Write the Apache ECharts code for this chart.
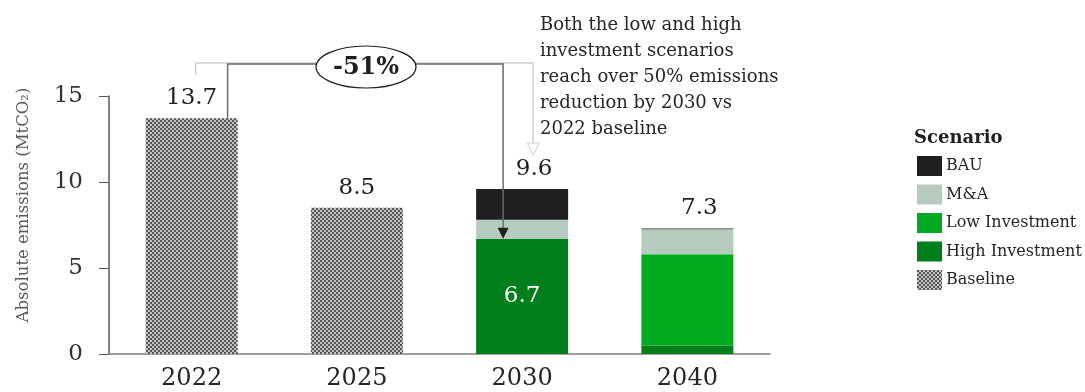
<!DOCTYPE html>
<html><head><meta charset="utf-8">
<script src="https://cdn.jsdelivr.net/npm/echarts@6/dist/echarts.min.js"></script>
<style>html,body{margin:0;padding:0;background:#fff}#c{width:1085px;height:392px}</style>
</head><body><div id="c"></div>
<script>
const categories = ['2022', '2025', '2030', '2040'];
const baseline = [13.7, 8.5, '-', '-'];
const highInv = ['-', '-', 6.7, 0.5];
const lowInv = ['-', '-', 0, 5.3];
const mna = ['-', '-', 1.1, 1.45];
const bau = ['-', '-', 1.8, 0.05];
const totals = [13.7, 8.5, 9.6, 7.3];
const yTicks = [0, 5, 10, 15];
const annotationText = 'Both the low and high\ninvestment scenarios\nreach over 50% emissions\nreduction by 2030 vs\n2022 baseline';
const reductionLabel = '-51%';
const yTitle = 'Absolute emissions (MtCO₂)';

const FONT = 'DejaVu Serif';
const colors = { bau: '#1f1f1f', mna: '#b5cbbd', low: '#00ab1f', high: '#007f1a' };

// checker pattern for Baseline
const pc = document.createElement('canvas');
pc.width = 4; pc.height = 4;
const pctx = pc.getContext('2d');
pctx.fillStyle = '#c2c2c2'; pctx.fillRect(0, 0, 4, 4);
pctx.fillStyle = '#555555';
pctx.fillRect(0, 0, 2, 2); pctx.fillRect(2, 2, 2, 2);
const pattern = { image: pc, repeat: 'repeat' };

const chart = echarts.init(document.getElementById('c'), null, { renderer: 'canvas' });
const barW = 92;
const base = { type: 'bar', stack: 'a', barWidth: barW };
const option = {
  animation: false,
  textStyle: { fontFamily: FONT },
  grid: { left: 109, right: 315, top: 96, bottom: 38, containLabel: false },
  legend: {
    orient: 'vertical', left: 912, top: 151, itemWidth: 25, itemHeight: 20, itemGap: 8.5,
    icon: 'rect',
    data: ['BAU', 'M&A', 'Low Investment', 'High Investment', 'Baseline'],
    textStyle: { fontFamily: FONT, fontSize: 16, color: '#262626', padding: [0, 0, 0, -1] },
    selectedMode: false
  },
  xAxis: {
    type: 'category', data: categories,
    axisLine: { lineStyle: { color: '#7f7f7f', width: 1.5 } },
    axisTick: { show: false },
    axisLabel: { fontFamily: FONT, fontSize: 24, color: '#262626', margin: 13 }
  },
  yAxis: {
    type: 'value', min: 0, max: 15, interval: 5,
    axisLine: { show: true, lineStyle: { color: '#595959', width: 1.5 } },
    axisTick: { show: true, inside: false, length: 10, lineStyle: { color: '#595959' } },
    axisLabel: { fontFamily: FONT, fontSize: 23, color: '#333', margin: 26,
      formatter: v => yTicks.includes(v) ? String(v) : '' },
    splitLine: { show: false }
  },
  series: [
    Object.assign({}, base, { name: 'Baseline', data: baseline, itemStyle: { color: pattern } }),
    Object.assign({}, base, { name: 'High Investment', data: highInv.map((v, i) => i === 2 ? {
      value: v, label: { show: true, position: 'inside', color: '#fff', fontSize: 23, fontFamily: FONT, formatter: '{c}' } } : v),
      itemStyle: { color: colors.high } }),
    Object.assign({}, base, { name: 'Low Investment', data: lowInv, itemStyle: { color: colors.low } }),
    Object.assign({}, base, { name: 'M&A', data: mna, itemStyle: { color: colors.mna } }),
    Object.assign({}, base, { name: 'BAU', data: bau, itemStyle: { color: colors.bau } }),
    {
      name: 'Total', type: 'scatter', symbol: 'circle', symbolSize: 1,
      data: totals.map((v, i) => ({ value: v, label: { offset: i >= 2 ? [12, 0] : [0, 0] } })),
      itemStyle: { color: 'rgba(0,0,0,0)', opacity: 1 }, silent: true, z: 10,
      label: { show: true, position: 'top', distance: 8, fontFamily: FONT, fontSize: 23, color: '#1f1f1f', formatter: '{c}' }
    }
  ]
};
chart.setOption(option);

// annotations
const px = (cat, v) => chart.convertToPixel({ gridIndex: 0 }, [cat, v]);
const p2022 = px('2022', totals[0]);
const p2030 = px('2030', 6.7);
const yBr = 64;
const xL = p2022[0] + 36;
const xR = p2030[0] - 19;
const shL = p2022[0] + 4;
const shR = p2030[0] + 11;
const lineC = '#6b6b6b';
const lightC = '#cfcfcf';
chart.setOption({
  graphic: [
    { type: 'polyline', z: 1, shape: { points: [[shL, yBr + 11], [shL, yBr - 1], [shR, yBr - 1], [shR, 143]] }, style: { stroke: lightC, lineWidth: 1.5, fill: null } },
    { type: 'polygon', z: 1, shape: { points: [[shR - 6, 143], [shR + 6, 143], [shR, 155]] }, style: { stroke: lightC, fill: '#fff', lineWidth: 1 } },
    { type: 'polyline', z: 5, shape: { points: [[xL, p2022[1]], [xL, yBr], [xR, yBr], [xR, p2030[1] - 9]] }, style: { stroke: lineC, lineWidth: 1.5, fill: null } },
    { type: 'polygon', z: 5, shape: { points: [[xR - 5.5, p2030[1] - 11], [xR + 5.5, p2030[1] - 11], [xR, p2030[1]]] }, style: { fill: '#1f1f1f' } },
    { type: 'ellipse', z: 6, shape: { cx: 366, cy: 67, rx: 50, ry: 21 }, style: { fill: '#fff', stroke: '#1f1f1f', lineWidth: 1.2 } },
    { type: 'text', z: 7, x: 366, y: 68, style: { text: reductionLabel, fontFamily: FONT, fontSize: 24, fontWeight: 'bold', fill: '#1f1f1f', align: 'center', verticalAlign: 'middle' } },
    { type: 'text', z: 7, x: 540, y: 12, style: { text: annotationText, fontFamily: FONT, fontSize: 18, lineHeight: 26, fill: '#262626', align: 'left', verticalAlign: 'top' } },
    { type: 'text', z: 7, x: 914, y: 129, style: { text: 'Scenario', fontFamily: FONT, fontSize: 18, fontWeight: 'bold', fill: '#1f1f1f' } },
    { type: 'text', z: 7, x: 24, y: 205, rotation: Math.PI / 2, style: { text: yTitle, fontFamily: FONT, fontSize: 16.5, fill: '#595959', align: 'center', verticalAlign: 'middle' } }
  ]
});
</script></body></html>
